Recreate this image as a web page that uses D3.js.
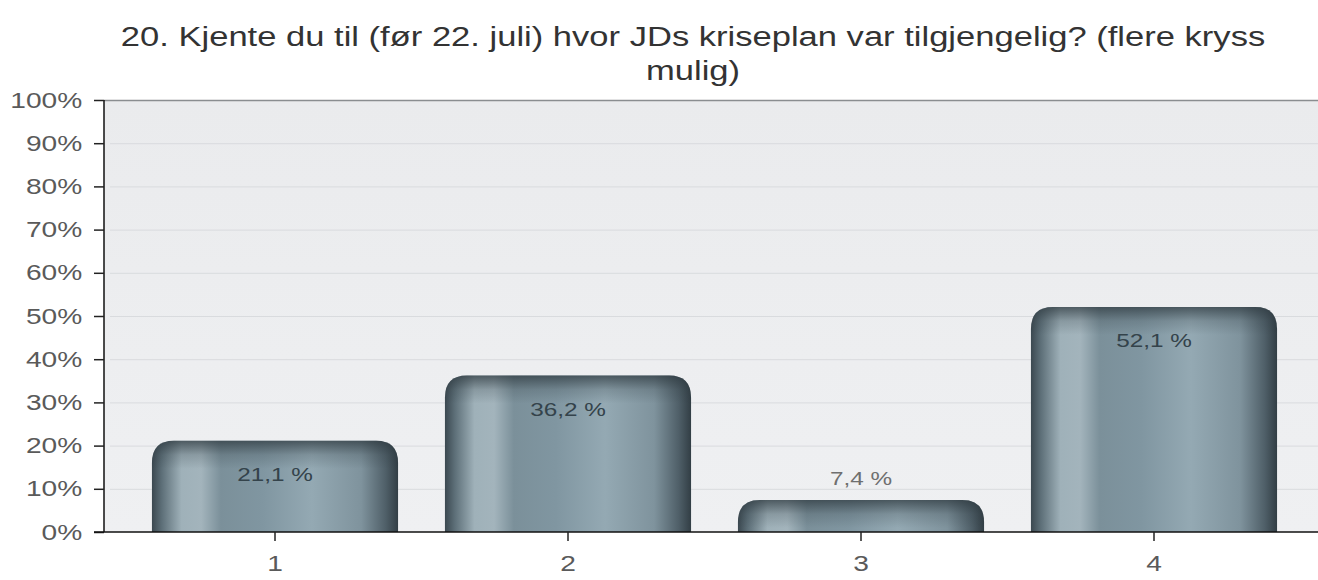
<!DOCTYPE html>
<html>
<head>
<meta charset="utf-8">
<script src="https://cdn.jsdelivr.net/npm/d3@7"></script>
<style>
  body { margin: 0; background: #fff; }
  text { font-family: "Liberation Sans", Arial, sans-serif; }
</style>
</head>
<body>
<div id="container"></div>
<script>
const width = 1318;
const height = 580;

const categories = ['1', '2', '3', '4'];
const values = [21.1, 36.2, 7.4, 52.1];
const valueLabels = ['21,1 %', '36,2 %', '7,4 %', '52,1 %'];
const yTicks = [0, 10, 20, 30, 40, 50, 60, 70, 80, 90, 100];
const titleLines = ['20. Kjente du til (før 22. juli) hvor JDs kriseplan var tilgjengelig? (flere kryss', 'mulig)'];

const plotLeft = 104, plotRight = 1318, plotTop = 100, plotBottom = 532;
// the original picture is stretched sideways, so text is too
const stretch = 'scale(1.28,1)';

let svg = d3.select('#container').append('svg')
    .attr('width', width)
    .attr('height', height);

let defs = svg.append('defs');

// plot background
let bg = defs.append('linearGradient').attr('id', 'bg').attr('x1', 0).attr('x2', 0).attr('y1', 0).attr('y2', 1);
bg.append('stop').attr('offset', 0).attr('stop-color', '#eaebed');
bg.append('stop').attr('offset', 1).attr('stop-color', '#eff0f2');

// bar body gradient, left to right
let barGrad = defs.append('linearGradient').attr('id', 'barGrad');
[[0, '#3b4850'], [0.04, '#5d6f78'], [0.12, '#9fb1b9'], [0.2, '#a3b4bc'], [0.28, '#7b909a'],
 [0.45, '#8096a1'], [0.65, '#94a9b3'], [0.85, '#7f939d'], [0.95, '#4f5f68'], [1, '#323e45']]
    .forEach(s => barGrad.append('stop').attr('offset', s[0]).attr('stop-color', s[1]));

// darker top band
let topGrad = defs.append('linearGradient').attr('id', 'topGrad').attr('x1', 0).attr('x2', 0).attr('y1', 0).attr('y2', 1);
topGrad.append('stop').attr('offset', 0).attr('stop-color', '#2a353b').attr('stop-opacity', 0.7);
topGrad.append('stop').attr('offset', 0.5).attr('stop-color', '#2a353b').attr('stop-opacity', 0.2);
topGrad.append('stop').attr('offset', 1).attr('stop-color', '#2a353b').attr('stop-opacity', 0);

let x = d3.scaleBand()
    .domain(categories)
    .range([128.5, 1300.5])
    .paddingInner(0.16)
    .paddingOuter(0.08);

let y = d3.scaleLinear()
    .domain([0, 100])
    .range([plotBottom, plotTop]);

svg.append('rect')
    .attr('x', plotLeft).attr('y', plotTop)
    .attr('width', plotRight - plotLeft).attr('height', plotBottom - plotTop)
    .attr('fill', 'url(#bg)');

// gridlines
svg.append('g')
    .selectAll('line')
    .data(yTicks.filter(d => d > 0 && d < 100))
    .join('line')
    .attr('x1', plotLeft + 6).attr('x2', plotRight)
    .attr('y1', d => y(d) + 0.5).attr('y2', d => y(d) + 0.5)
    .attr('stroke', '#d9dbde')
    .attr('stroke-width', 1);

svg.append('line')
    .attr('x1', plotLeft).attr('x2', plotRight)
    .attr('y1', plotTop + 0.5).attr('y2', plotTop + 0.5)
    .attr('stroke', '#8a8d90').attr('stroke-width', 1.5);

// bars
const r = 22;
function barPath(x0, w, yTop, yBot) {
    let rr = Math.min(r, (yBot - yTop), w / 2);
    return `M${x0},${yBot} L${x0},${yTop + rr} Q${x0},${yTop} ${x0 + rr},${yTop} ` +
        `L${x0 + w - rr},${yTop} Q${x0 + w},${yTop} ${x0 + w},${yTop + rr} L${x0 + w},${yBot} Z`;
}

let bars = svg.append('g')
    .selectAll('g')
    .data(categories.map((c, i) => ({ cat: c, value: values[i], label: valueLabels[i] })))
    .join('g');

bars.append('path')
    .attr('d', d => barPath(x(d.cat), x.bandwidth(), y(d.value), plotBottom))
    .attr('fill', 'url(#barGrad)');

bars.append('path')
    .attr('d', d => barPath(x(d.cat), x.bandwidth(), y(d.value), Math.min(plotBottom, y(d.value) + 28)))
    .attr('fill', 'url(#topGrad)');

bars.append('text')
    .attr('transform', d => `translate(${x(d.cat) + x.bandwidth() / 2},${d.value > 12 ? y(d.value) + 40 : y(d.value) - 15}) ${stretch}`)
    .attr('text-anchor', 'middle')
    .attr('font-size', 19)
    .attr('fill', d => d.value > 12 ? '#34434b' : '#6f6f6f')
    .text(d => d.label);

// y axis
let yAxis = svg.append('g')
    .attr('transform', `translate(${plotLeft},0)`)
    .call(d3.axisLeft(y).tickValues(yTicks).tickSize(10).tickPadding(7).tickFormat(d => d + '%'));
yAxis.select('.domain').attr('stroke', '#111').attr('stroke-width', 1.5).attr('d', `M0,${plotTop}V${plotBottom}`);
yAxis.selectAll('.tick line').attr('stroke', '#222').attr('stroke-width', 1.5);
yAxis.selectAll('.tick text').attr('font-size', 22).attr('fill', '#5a5a5a')
    .attr('font-family', '"Liberation Sans", Arial, sans-serif')
    .attr('transform', stretch);

// x axis
let xAxis = svg.append('g')
    .attr('transform', `translate(0,${plotBottom})`)
    .call(d3.axisBottom(x).tickSize(9).tickPadding(14));
xAxis.select('.domain').attr('stroke', '#111').attr('stroke-width', 1.5).attr('d', `M${plotLeft - 10},0H${plotRight}`);
xAxis.selectAll('.tick line').attr('stroke', '#222').attr('stroke-width', 1.5);
xAxis.selectAll('.tick text').attr('font-size', 22).attr('fill', '#5a5a5a')
    .attr('font-family', '"Liberation Sans", Arial, sans-serif')
    .attr('transform', stretch);

// title
svg.append('g')
    .selectAll('text')
    .data(titleLines)
    .join('text')
    .attr('transform', (d, i) => `translate(693,${46 + i * 34}) ${stretch}`)
    .attr('text-anchor', 'middle')
    .attr('font-size', 27)
    .attr('fill', '#333')
    .text(d => d);
</script>
</body>
</html>
